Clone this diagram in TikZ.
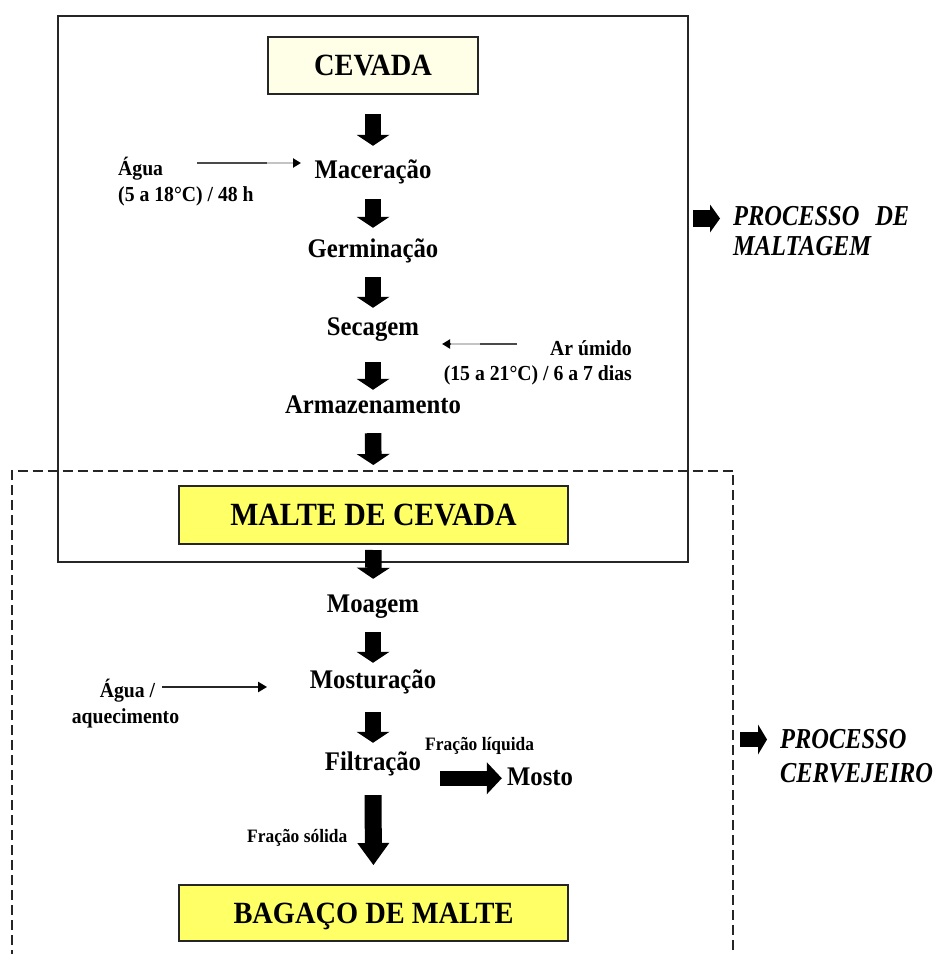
\documentclass[tikz,border=0pt]{standalone}
\usepackage{fontspec}
\setmainfont[FakeStretch=0.92]{Liberation Serif}
\newfontfamily\procfont[FakeStretch=0.845]{Liberation Serif}
\usetikzlibrary{arrows.meta,calc}
\definecolor{cream}{HTML}{FFFFE8}
\definecolor{maltyel}{HTML}{FFFF66}
\definecolor{framec}{HTML}{262626}
\definecolor{darkseg}{HTML}{4A4A4A}
\definecolor{lightseg}{HTML}{C4C4C4}
\begin{document}
\begin{tikzpicture}[x=1bp,y=-1bp,
  boxlbl/.style={draw=framec, line width=2.5bp, inner sep=0pt, text height=20.5bp, text depth=0pt,
    font=\bfseries\fontsize{31}{31}\selectfont},
  stepnode/.style={inner sep=0pt, anchor=base, text height=18.5bp, text depth=5bp,
    font=\bfseries\fontsize{27}{30}\selectfont},
  lbl/.style={inner sep=0pt, font=\bfseries\fontsize{21.5}{24}\selectfont},
  flbl/.style={inner sep=0pt, font=\bfseries\fontsize{19}{22}\selectfont},
  proc/.style={inner sep=0pt, anchor=base west, font=\procfont\bfseries\itshape\fontsize{29}{30}\selectfont},
  blk/.style={draw=black, line width=16.5bp, -{Triangle[width=33bp,length=11bp,line width=0pt]}},
  bigblk/.style={draw=black, line width=17bp, -{Triangle[width=32bp,length=22bp,line width=0pt]}},
  hblk/.style={draw=black, line width=15bp, -{Triangle[width=32bp,length=15bp,line width=0pt]}},
  smblkA/.style={draw=black, line width=17bp, -{Triangle[width=28bp,length=10bp,line width=0pt]}},
  smblkB/.style={draw=black, line width=15bp, -{Triangle[width=30bp,length=9bp,line width=0pt]}},
  grayarr/.style={draw=darkseg, line width=2.6bp, -{Triangle[width=9bp,length=8bp,color=black]}},
  lightpart/.style={draw=lightseg, line width=2.6bp},
  blackarr/.style={draw=framec, line width=2.2bp, -{Triangle[width=10bp,length=9bp,color=black]}},
  solidframe/.style={draw=framec, line width=2.2bp},
  dashframe/.style={draw=framec, line width=2bp, dash pattern=on 10bp off 5bp}
]
\fill[white] (0,0) rectangle (937,954);
\useasboundingbox (0,0) rectangle (937,954);

% frames
\draw[dashframe] (12,960) -- (12,470.5) -- (733,470.5) -- (733,960);
\draw[solidframe] (58,16) rectangle (688,562);

% boxes
\node[boxlbl, fill=cream, minimum width=210bp, minimum height=57bp] (cev) at (373,65.5) {CEVADA};
\node[boxlbl, fill=maltyel, minimum width=389bp, minimum height=58bp, font=\bfseries\fontsize{32.5}{33}\selectfont] (malte) at (373.5,515) {MALTE DE CEVADA};
\node[boxlbl, fill=maltyel, minimum width=389bp, minimum height=56bp] (bag) at (373.5,913) {BAGAÇO DE MALTE};

% steps
\node[stepnode] (mac) at (373,178) {Maceração};
\node[stepnode] (ger) at (373,257) {Germinação};
\node[stepnode] (sec) at (373,335) {Secagem};
\node[stepnode] (arm) at (373,413) {Armazenamento};
\node[stepnode] (moa) at (373,612) {Moagem};
\node[stepnode] (mos) at (373,688) {Mosturação};
\node[stepnode] (fil) at (373,770) {Filtração};
\node[stepnode] (mosto) at (540,785) {Mosto};

% side labels
\node[lbl, anchor=base west] (a1) at (118,175) {Água};
\node[lbl, anchor=base west] (a2) at (118,201) {(5 a 18°C) / 48 h};
\node[lbl, anchor=base east] (r1) at (632,355) {Ar úmido};
\node[lbl, anchor=base east] (r2) at (632,380) {(15 a 21°C) / 6 a 7 dias};
\node[lbl, anchor=base] (w1) at (127.5,697) {Água /};
\node[lbl, anchor=base] (w2) at (125.5,723) {aquecimento};
\node[flbl, anchor=base west] (fl) at (425,750) {Fração líquida};
\node[flbl, anchor=base west] (fs) at (247,842) {Fração sólida};

% process labels
\node[proc] (pm1) at (733,225) {PROCESSO\hspace{16bp}DE};
\node[proc] (pm2) at (733,255) {MALTAGEM};
\node[proc] (pc1) at (780,748) {PROCESSO};
\node[proc] (pc2) at (780,782) {CERVEJEIRO};

% block arrows
\draw[blk, shorten <=18.75bp, shorten >=13.5bp] (cev.south) -- (mac.north);
\draw[blk, shorten <=16bp, shorten >=10.5bp] (mac.south) -- (ger.north);
\draw[blk, shorten <=15bp, shorten >=8.5bp] (ger.south) -- (sec.north);
\draw[blk, shorten <=22bp, shorten >=4.5bp] (sec.south) -- (arm.north);
\draw[blk, shorten <=15bp, shorten >=19.75bp] (arm.south) -- (malte.north);
\draw[blk, shorten <=4.75bp, shorten >=14.5bp] (malte.south) -- (moa.north);
\draw[blk, shorten <=15bp, shorten >=6.5bp] (moa.south) -- (mos.north);
\draw[blk, shorten <=19bp, shorten >=8.5bp] (mos.south) -- (fil.north);
\draw[bigblk, shorten <=20bp, shorten >=18.75bp] (fil.south) -- (bag.north);
\draw[hblk, shorten <=18.7bp, shorten >=5bp] (fil.east |- mosto.west) -- (mosto.west);

% thin arrows
\coordinate (agA) at (197,163);
\draw[grayarr, shorten >=13.4bp] (agA) -- (agA -| mac.west);
\draw[lightpart] ($(agA)+(70,0)$) -- ($(agA)+(96,0)$);
\coordinate (arA) at (517,344);
\draw[grayarr, shorten >=22.8bp] (arA) -- (arA -| sec.east);
\draw[lightpart] ($(arA)+(-37,0)$) -- ($(arA)+(-66,0)$);
\coordinate (agC) at (162,687);
\draw[blackarr, shorten >=42.5bp] (agC) -- (agC -| mos.west);

% process arrows
\coordinate (pmA) at (693,218.5);
\draw[smblkA, shorten >=13bp] (pmA) -- (pmA -| pm1.west);
\coordinate (pcA) at (740,739.5);
\draw[smblkB, shorten >=13bp] (pcA) -- (pcA -| pc1.west);
\end{tikzpicture}
\end{document}
